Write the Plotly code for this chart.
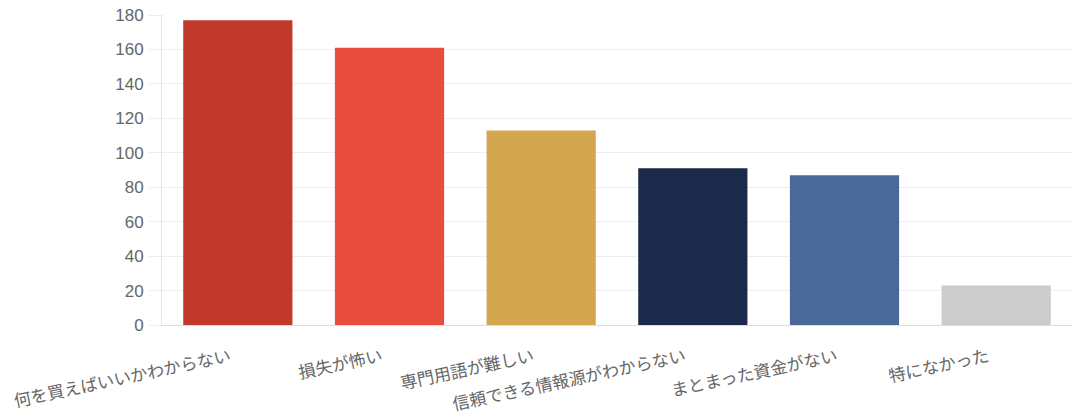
import plotly.graph_objects as go

categories = ["何を買えばいいかわからない", "損失が怖い", "専門用語が難しい",
              "信頼できる情報源がわからない", "まとまった資金がない", "特になかった"]
values = [177, 161, 113, 91, 87, 23]
colors = ["#c0392b", "#e74c3c", "#d4a650", "#1b2a4a", "#4a6898", "#cccccc"]

fig = go.Figure(go.Bar(x=categories, y=values, marker=dict(color=colors, line=dict(width=0))))

fig.update_layout(
    width=1072, height=420,
    margin=dict(l=162, r=0, t=15, b=95),
    plot_bgcolor="white", paper_bgcolor="white",
    bargap=0.28, showlegend=False,
    font=dict(family="Noto Sans CJK JP, sans-serif", color="#666666", size=17),
)
fig.update_xaxes(
    tickangle=-12,
    showgrid=False, showline=True, linecolor="#dddddd", linewidth=1,
    ticks="", tickfont=dict(size=17, color="#666666"),
    ticklabelstandoff=15, ticklabelshift=-8, automargin=False,
)
fig.update_yaxes(
    range=[0, 180], dtick=20, showgrid=True, gridcolor="#eeeeee",
    showline=True, linecolor="#e5e5e5", zeroline=False,
    ticks="outside", ticklen=12, tickcolor="#eeeeee",
    tickfont=dict(size=17, color="#666666", family="Liberation Sans, Arial, sans-serif"),
    ticklabelstandoff=2, automargin=False,
)

fig.write_html("out.html")
